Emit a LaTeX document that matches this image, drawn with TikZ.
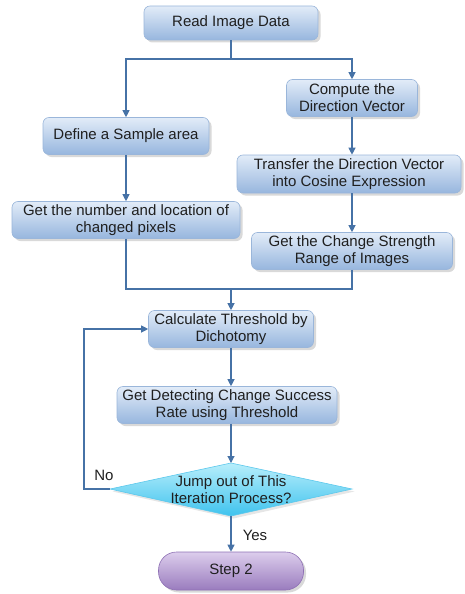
\documentclass[tikz,border=0pt]{standalone}
\usepackage{fontspec}
\setmainfont{Liberation Sans}
\usetikzlibrary{arrows.meta,shadows}
\definecolor{boxtop}{HTML}{E2ECF8}
\definecolor{boxbot}{HTML}{97B6DE}
\definecolor{boxedge}{HTML}{9AB6DA}
\definecolor{arr}{HTML}{4672A6}
\definecolor{diatop}{HTML}{B8EEFB}
\definecolor{diabot}{HTML}{3FC3EE}
\definecolor{diaedge}{HTML}{5CC8EC}
\definecolor{purtop}{HTML}{DCCDEC}
\definecolor{purbot}{HTML}{9A7CBE}
\definecolor{puredge}{HTML}{8E70B4}
\begin{document}
\begin{tikzpicture}[x=1pt,y=-1pt,
  lbl/.style={font=\fontsize{15}{16.8}\selectfont, text=black!88},
  proc/.style={lbl, rectangle, rounded corners=6pt, draw=boxedge, line width=0.6pt,
    top color=boxtop, bottom color=boxbot, align=center, inner sep=0pt,
    drop shadow={opacity=0.3, shadow xshift=2.5pt, shadow yshift=-2.5pt}},
  conn/.style={draw=arr, line width=1.1pt, -{Triangle[length=7pt,width=7pt]}},
  plain/.style={draw=arr, line width=1.1pt},
]
\useasboundingbox (0,0) rectangle (465,594);

\node[proc, minimum width=174pt, minimum height=34pt] (read) at (231,23) {Read Image Data};
\node[proc, minimum width=131pt, minimum height=37pt] (compute) at (352,98) {Compute the\\Direction Vector};
\node[proc, minimum width=166pt, minimum height=37pt] (define) at (126,136) {Define a Sample area};
\node[proc, minimum width=224pt, minimum height=38pt] (transfer) at (349,174) {Transfer the Direction Vector\\into Cosine Expression};
\node[proc, minimum width=228pt, minimum height=37pt] (number) at (126,220) {Get the number and location of\\changed pixels};
\node[proc, minimum width=201pt, minimum height=37pt] (change) at (352,251) {Get the Change Strength\\Range of Images};
\node[proc, minimum width=165pt, minimum height=37pt] (calc) at (231,329) {Calculate Threshold by\\Dichotomy};
\node[proc, minimum width=220pt, minimum height=37pt] (detect) at (227,405) {Get Detecting Change Success\\Rate using Threshold};

% decision diamond
\coordinate (dN) at (231,463);
\coordinate (dE) at (352,489);
\coordinate (dS) at (231,516);
\coordinate (dW) at (110,489);
\path[draw=diaedge, line width=0.6pt, top color=diatop, bottom color=diabot,
  drop shadow={opacity=0.2, shadow xshift=2.5pt, shadow yshift=-2.5pt}]
  (dN) -- (dE) -- (dS) -- (dW) -- cycle;
\node[lbl, align=center, inner sep=0pt] (dec) at (231,490) {Jump out of This\\Iteration Process?};

\node[lbl, rectangle, rounded corners=18pt, draw=puredge, line width=0.6pt,
  top color=purtop, bottom color=purbot, minimum width=145pt, minimum height=38pt,
  drop shadow={opacity=0.3, shadow xshift=2.5pt, shadow yshift=-2.5pt}] (step) at (231,571) {Step 2};

% connectors
\coordinate (split) at (231,59);
\coordinate (merge) at (231,289);
\coordinate (loop) at (84,489);
\draw[plain] (read.south) -- (split);
\draw[conn] (split) -| (define.north);
\draw[conn] (split) -| (compute.north);
\draw[conn] (compute.south) -- (compute.south |- transfer.north);
\draw[conn] (compute.south |- transfer.south) -- (change.north);
\draw[conn] (define.south) -- (number.north);
\draw[plain] (number.south) |- (merge);
\draw[plain] (change.south) |- (merge);
\draw[conn] (merge) -- (calc.north);
\draw[conn] (calc.south) -- (calc.south |- detect.north);
\draw[conn] (calc.south |- detect.south) -- (dN);
\draw[conn] (dS) -- (step.north);
\draw[conn] (dW) -- (loop) |- (calc.west);

\node[lbl] (no) at (104,475) {No};
\node[lbl] (yes) at (255,535) {Yes};
\end{tikzpicture}
\end{document}
